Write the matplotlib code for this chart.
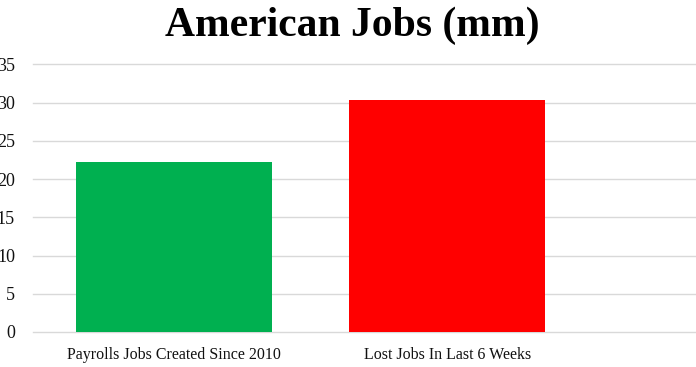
import matplotlib
matplotlib.use("Agg")
import matplotlib.pyplot as plt

categories = ["Payrolls Jobs Created Since 2010", "Lost Jobs In Last 6 Weeks"]
values = [22.2, 30.3]
colors = ["#00B050", "#FF0000"]
yticks = [0, 5, 10, 15, 20, 25, 30, 35]

plt.rcParams['font.family'] = ['Liberation Serif', 'DejaVu Serif']

fig = plt.figure(figsize=(6.96, 3.67), dpi=100)
ax = fig.add_axes([33 / 696, 35 / 367, 1 - 33 / 696, (332 - 64.3) / 367])

ax.bar(range(len(categories)), values, width=0.717, color=colors, zorder=3)
ax.set_xlim(-0.515, 1.909)
ax.set_ylim(0, 35)
ax.set_yticks(yticks)
ax.set_xticks(range(len(categories)))
ax.set_xticklabels(categories, fontsize=11.5, color='#111111')
ax.tick_params(axis='y', labelsize=13, length=0, pad=13, labelcolor='#111111')
ax.tick_params(axis='x', length=0, pad=11)
ax.grid(axis='y', color='#D9D9D9', linewidth=1, zorder=0)
for line in ax.get_ygridlines():
    line.set_clip_on(False)
for s in ax.spines.values():
    s.set_visible(False)

fig.text(352 / 696, 1 - 26 / 367, "American Jobs (mm)", ha='center', va='center',
         fontsize=30, fontweight='bold')

fig.savefig("out.png", dpi=100)
